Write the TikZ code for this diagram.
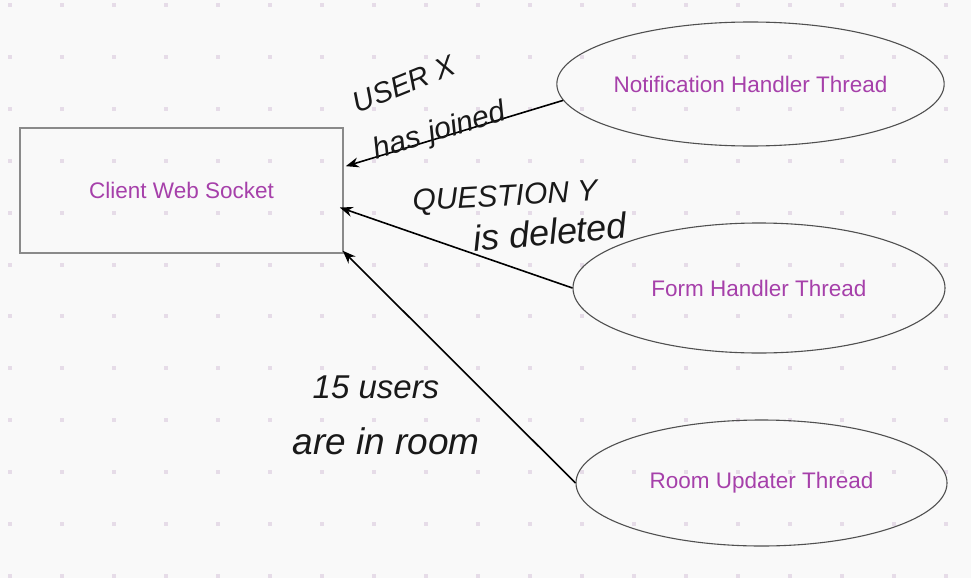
\documentclass[tikz,border=0pt]{standalone}
\usepackage{fontspec}
\newfontfamily\lab{Liberation Sans}
\usetikzlibrary{shapes.geometric,arrows.meta,calc}
\definecolor{bg}{HTML}{F9F9F9}
\definecolor{dotc}{HTML}{E6DCE8}
\definecolor{lblc}{HTML}{A640AA}
\definecolor{boxc}{HTML}{8A8A8A}
\definecolor{ellc}{HTML}{505050}
\tikzset{
  boxnode/.style={draw=boxc, line width=1.6pt, fill=none, minimum width=323pt, minimum height=125pt, inner sep=0pt, text=lblc, font=\lab\fontsize{22.5}{26}\selectfont},
  thread/.style={ellipse, draw=ellc, line width=1.1pt, inner sep=0pt, text=lblc, font=\lab\fontsize{22.5}{26}\selectfont},
  arr/.style={-{Stealth[length=13pt,width=10pt]}, line width=1.6pt, black},
  hand/.style={inner sep=0pt, text=black!90}
}
\newcommand{\hf}[1]{\lab\itshape\fontsize{#1}{#1}\selectfont}
\begin{document}
\begin{tikzpicture}[x=1pt,y=-1pt]
\fill[bg] (0,0) rectangle (971,578);
\useasboundingbox (0,0) rectangle (971,578);
\foreach \i in {0,...,18}{
  \foreach \j in {0,...,11}{
    \fill[dotc] ({10+52*\i-2},{5+51.9*\j-2}) rectangle +(4,4);
  }
}
\node[boxnode] (csock) at (181.5,190.5) {Client Web Socket};
\node[thread, minimum width=373pt, minimum height=124pt] (notif) at (750.5,84) {Notification Handler Thread};
\node[thread, minimum width=372pt, minimum height=130pt] (form) at (759,288) {Form Handler Thread};
\node[thread, minimum width=371pt, minimum height=126pt] (room) at (761.5,483) {Room Updater Thread};

\draw[arr] (notif.185) -- ($(csock.north east)+(2,39)$);
\draw[arr] (form.west) -- ($(csock.east)+(-4,17)$);
\draw[arr] (room.west) -- ($(csock.south east)+(-1,-3)$);

\node[hand, rotate=22, font=\hf{29}] (l1a) at (404,84) {USER X};
\node[hand, rotate=17, font=\hf{30}] (l1b) at (440,132) {has joined};
\node[hand, rotate=3, font=\hf{30}] (l2a) at (505,198) {QUESTION Y};
\node[hand, rotate=5, font=\hf{36}] (l2b) at (550,232) {is deleted};
\node[hand, font=\hf{33}] (l3a) at (376,387) {15 users};
\node[hand, font=\hf{37}] (l3b) at (386,441) {are in room};
\end{tikzpicture}
\end{document}
